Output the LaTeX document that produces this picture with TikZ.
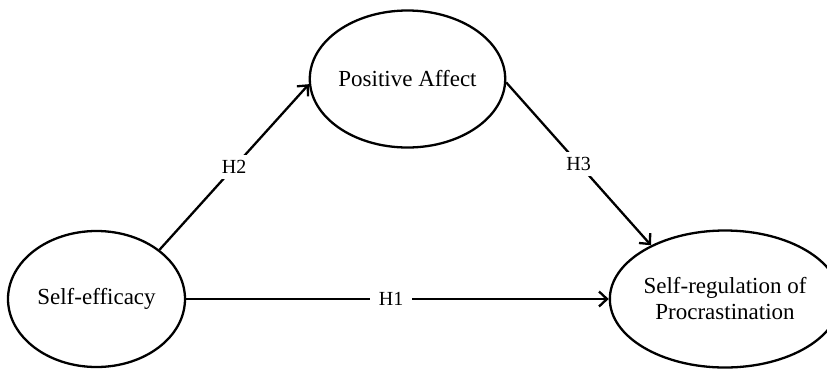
\documentclass[tikz,border=0pt]{standalone}
\usepackage{fontspec}
\setmainfont{Liberation Serif}
\usetikzlibrary{shapes.geometric,arrows.meta}
\begin{document}
\begin{tikzpicture}[x=1pt,y=-1pt,
  latent/.style={ellipse,draw,line width=2.3pt,inner sep=0pt,align=center,
    font=\fontsize{23}{26}\selectfont},
  link/.style={line width=2.3pt,-{Straight Barb[length=8pt,width=15pt,line width=2.3pt]}},
  hlabel/.style={fill=white,inner xsep=9pt,inner ysep=5pt,font=\fontsize{20}{22}\selectfont}]
\useasboundingbox (0,0) rectangle (827,368);
\node[latent,minimum width=177pt,minimum height=136pt] (se) at (96.5,299) {Self-efficacy};
\node[latent,minimum width=177pt,minimum height=137pt] (pa) at (407.5,79) {Positive Affect};
\node[latent,minimum width=202pt,minimum height=137pt] (sr) at (725,299) {Self-regulation of\\Procrastination};
\draw[link] (se.east) -- node[hlabel,pos=0.485] (h1) {H1} (sr.west);
\draw[link] (se.38) -- node[hlabel,pos=0.5] (h2) {H2} (pa.183);
\draw[link] (pa.-2) -- node[hlabel,pos=0.5] (h3) {H3} (sr.144);
\end{tikzpicture}
\end{document}
